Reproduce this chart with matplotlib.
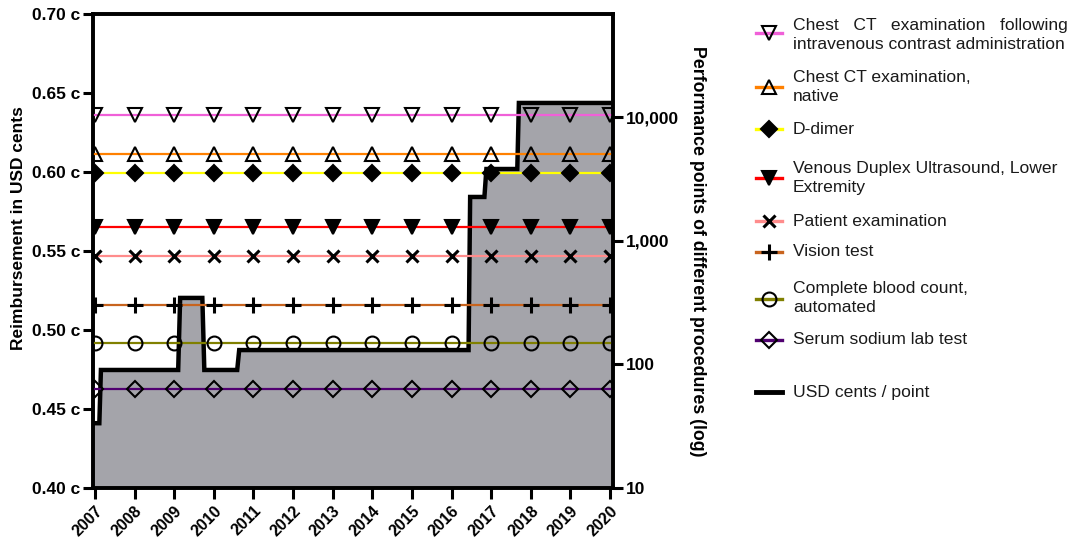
import matplotlib
matplotlib.use("Agg")
import matplotlib.pyplot as plt
from matplotlib.lines import Line2D
from matplotlib.ticker import FixedLocator, NullLocator, FuncFormatter
import numpy as np

plt.rcParams['font.family'] = ['Liberation Sans', 'DejaVu Sans']
plt.rcParams['hatch.color'] = '#7c7c80'
plt.rcParams['hatch.linewidth'] = 0.6

# ---------------- data ----------------
years = list(range(2007, 2021))

# USD cents per point (step series, left axis)
step_x = [2006.95, 2007.11, 2007.15, 2009.10, 2009.15, 2009.71, 2009.76, 2010.59, 2010.64,
          2016.43, 2016.47, 2016.83, 2016.88, 2017.66, 2017.70, 2020.08]
step_y = [0.441, 0.441, 0.4747, 0.4747, 0.5203, 0.5203, 0.4747, 0.4747, 0.4873,
          0.4873, 0.5842, 0.5842, 0.6019, 0.6019, 0.6437, 0.6437]

# Performance points of procedures (right axis, log)
procedures = [
    "Chest   CT   examination   following\nintravenous contrast administration",
    "Chest CT examination,\nnative",
    "D-dimer",
    "Venous Duplex Ultrasound, Lower\nExtremity",
    "Patient examination",
    "Vision test",
    "Complete blood count,\nautomated",
    "Serum sodium lab test",
]
points = [10380, 5020, 3525, 1290, 752, 302, 149, 63]
line_colors = ['#f060d8', '#ff8000', '#ffff00', '#ff0000', '#ff8c8c', '#c8641e', '#808000', '#500070']
markers = ['v', '^', 'D', 'v', 'x', '+', 'o', 'D']
marker_face = ['none', 'none', 'black', 'black', 'black', 'black', 'none', 'none']
marker_size = [10, 10, 8, 10, 9, 11, 10, 8]

left_ticks = [0.40, 0.45, 0.50, 0.55, 0.60, 0.65, 0.70]
right_ticks = [10, 100, 1000, 10000]
right_tick_labels = ["10", "100", "1,000", "10,000"]

TXT = '#1a1a1a'

# ---------------- figure ----------------
W, H = 1067, 543
fig = plt.figure(figsize=(W / 100, H / 100), dpi=100)
ax = fig.add_axes([93 / W, 1 - 488 / H, (613 - 93) / W, (488 - 14) / H])
ax2 = ax.twinx()

# step area
ax.fill_between(step_x, step_y, 0.40, facecolor='#a4a4aa', edgecolor='#a4a4aa',
                hatch='....', linewidth=0, zorder=1)
ax.plot(step_x, step_y, color='black', lw=3.2, solid_joinstyle='miter', zorder=2)

ax.set_xlim(2006.95, 2020.076)
ax.set_ylim(0.40, 0.70)
ax.yaxis.set_major_locator(FixedLocator(left_ticks))
ax.yaxis.set_major_formatter(FuncFormatter(lambda v, p: f"{v:.2f} c"))
ax.set_xticks(years)
ax.set_xticklabels([str(y) for y in years], rotation=45, ha='right',
                   rotation_mode='anchor', fontweight='bold', fontsize=11.5)
for lab in ax.get_yticklabels():
    lab.set_fontweight('bold')
    lab.set_fontsize(12.5)
ax.set_ylabel("Reimbursement in USD cents", fontweight='bold', fontsize=12.5)
ax.yaxis.set_label_coords(-0.128, 0.548)

# procedure lines
for pts, col, mk, fc, ms in zip(points, line_colors, markers, marker_face, marker_size):
    ax2.plot(years, [pts] * len(years), color=col, lw=1.6, zorder=3)
    ax2.plot(years, [pts] * len(years), linestyle='none', marker=mk, markersize=ms,
             markerfacecolor=fc, markeredgecolor='black',
             markeredgewidth=2.2 if mk in ('x', '+') else 1.5, zorder=4)

ax2.set_yscale('log')
ax2.set_ylim(10, 10 ** 4.833)
ax2.yaxis.set_major_locator(FixedLocator(right_ticks))
ax2.yaxis.set_minor_locator(NullLocator())
ax2.set_yticklabels(right_tick_labels, fontweight='bold', fontsize=12.5)
ax2.set_ylabel("Performance points of different procedures (log)", fontweight='bold',
               fontsize=12.8, rotation=-90, labelpad=20)

for a in (ax, ax2):
    for s in a.spines.values():
        s.set_linewidth(2.6)
    a.tick_params(axis='both', which='major', direction='out', length=7, width=2.2, pad=2)
ax.tick_params(axis='x', length=8, pad=3)

# ---------------- legend (manual layout) ----------------
def fx(x):
    return x / W

def fy(y):
    return 1 - y / H

handle_y = [33, 87, 129, 178, 221, 252, 299, 340]
text_y = [35, 87, 129, 178, 221, 252, 298, 340]
for hy, ty, lab, col, mk, fc, ms in zip(handle_y, text_y, procedures, line_colors,
                                        markers, marker_face, marker_size):
    fig.add_artist(Line2D([fx(756), fx(782)], [fy(hy), fy(hy)], color=col, lw=2.4,
                          transform=fig.transFigure))
    fig.add_artist(Line2D([fx(769)], [fy(hy)], marker=mk, markersize=ms,
                          markerfacecolor=fc, markeredgecolor='black',
                          markeredgewidth=2.2 if mk in ('x', '+') else 1.5,
                          linestyle='none', transform=fig.transFigure))
    fig.text(fx(793), fy(ty), lab, fontsize=12.6, va='center', ha='left',
             linespacing=1.3, color=TXT)

fig.add_artist(Line2D([fx(756), fx(782)], [fy(392), fy(392)], color='black', lw=3.5,
                      transform=fig.transFigure))
fig.text(fx(793), fy(392), "USD cents / point", fontsize=12.6, va='center', ha='left',
         color=TXT)

fig.savefig("out.png", dpi=100)
